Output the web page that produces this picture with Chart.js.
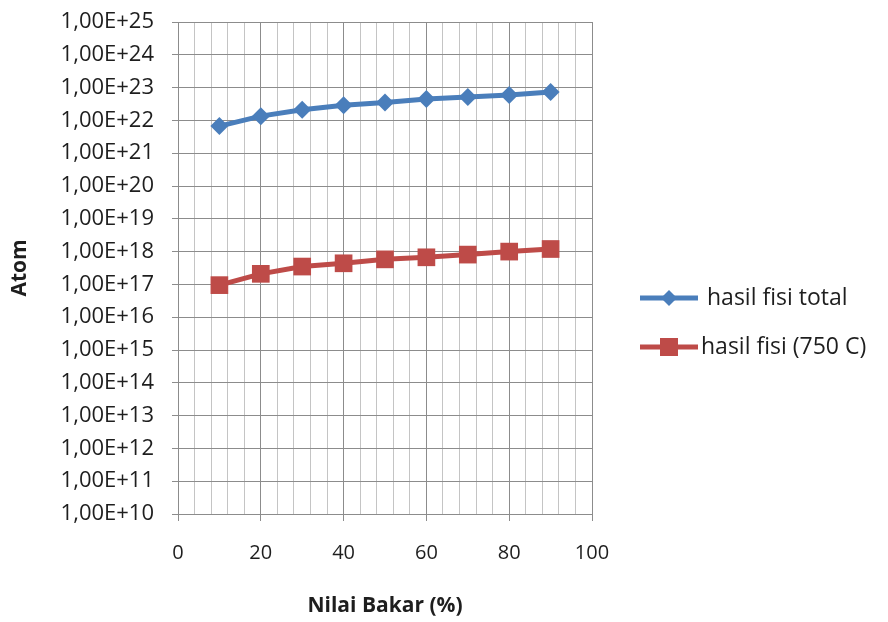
<!DOCTYPE html>
<html>
<head>
<meta charset="utf-8">
<script src="https://cdn.jsdelivr.net/npm/chart.js@4/dist/chart.umd.min.js"></script>
<style>
  html, body { margin: 0; padding: 0; background: #fff; }
  #wrap { width: 888px; height: 622px; }
</style>
</head>
<body>
<div id="wrap"><canvas id="fisi-chart" width="888" height="622"></canvas></div>
<script>
// data
var burnup = [10, 20, 30, 40, 50, 60, 70, 80, 90];
var fisiTotal = [6.7e21, 1.35e22, 2.1e22, 2.9e22, 3.5e22, 4.5e22, 5.2e22, 5.9e22, 7.4e22];
var fisi750 = [9.5e16, 2.1e17, 3.5e17, 4.4e17, 5.8e17, 6.7e17, 8.1e17, 1.0e18, 1.2e18];
var yExponents = [10, 11, 12, 13, 14, 15, 16, 17, 18, 19, 20, 21, 22, 23, 24, 25];
var seriesNames = ["hasil fisi total", "hasil fisi (750 C)"];

var fontFam = "'Open Sans', 'DejaVu Sans', sans-serif";
var textColor = "#1e1e1e";

function points(ys) {
    return burnup.map(function (x, i) { return { x: x, y: ys[i] }; });
}

// legend drawn by hand so it shows line + marker like the original
var sideLegend = {
    id: "sideLegend",
    afterDraw: function (chart) {
        var c = chart.ctx;
        var rows = [298, 347];
        chart.data.datasets.forEach(function (ds, i) {
            var y = rows[i];
            c.save();
            c.strokeStyle = ds.borderColor;
            c.lineWidth = 5;
            c.beginPath();
            c.moveTo(640, y);
            c.lineTo(698, y);
            c.stroke();
            c.fillStyle = ds.backgroundColor;
            c.beginPath();
            if (ds.pointStyle === "rectRot") {
                c.moveTo(669, y - 8); c.lineTo(677, y); c.lineTo(669, y + 8); c.lineTo(661, y);
            } else {
                c.rect(660, y - 9, 18, 18);
            }
            c.closePath();
            c.fill();
            c.fillStyle = textColor;
            c.font = "23px " + fontFam;
            c.textBaseline = "middle";
            c.fillText(ds.label, i === 0 ? 707 : 701, y);
            c.restore();
        });
    }
};

var ctx = document.getElementById("fisi-chart");

var fisiChart = new Chart(ctx, {
    type: "line",
    data: {
        datasets: [
            {
                label: seriesNames[0],
                data: points(fisiTotal),
                borderColor: "#4a7ebb",
                backgroundColor: "#4a7ebb",
                borderWidth: 5,
                pointStyle: "rectRot",
                pointRadius: 9,
                pointHoverRadius: 9,
                pointBorderWidth: 0
            },
            {
                label: seriesNames[1],
                data: points(fisi750),
                borderColor: "#be4b48",
                backgroundColor: "#be4b48",
                borderWidth: 5,
                pointStyle: "rect",
                pointRadius: 12.5,
                pointHoverRadius: 12.5,
                pointBorderWidth: 0
            }
        ]
    },
    options: {
        responsive: false,
        animation: false,
        layout: { padding: { left: 0, top: 22, right: 296, bottom: 0 } },
        plugins: {
            legend: { display: false },
            tooltip: { enabled: false }
        },
        scales: {
            x: {
                type: "linear",
                min: 0,
                max: 100,
                afterFit: function (s) { s.height = 108; },
                ticks: {
                    stepSize: 4,
                    autoSkip: false,
                    maxRotation: 0,
                    padding: 20,
                    color: textColor,
                    font: { family: fontFam, size: 20 },
                    callback: function (v) { return v % 20 === 0 ? v : ""; }
                },
                grid: {
                    color: function (c) { return c.tick && c.tick.value % 20 === 0 ? "#8c8c8c" : "#c4c4c4"; },
                    tickColor: function (c) { return c.tick && c.tick.value % 20 === 0 ? "#8c8c8c" : "rgba(0,0,0,0)"; },
                    tickLength: 7
                },
                border: { color: "#8c8c8c" },
                title: {
                    display: true,
                    text: "Nilai Bakar (%)",
                    color: textColor,
                    font: { family: fontFam, size: 21, weight: "bold" },
                    padding: { top: 0, bottom: 3 }
                }
            },
            y: {
                type: "logarithmic",
                min: 1e10,
                max: 1e25,
                afterFit: function (s) {
                    s.width = 178;
                    s.paddingTop = 12;
                    s.paddingBottom = 12;
                },
                afterBuildTicks: function (s) {
                    s.ticks = yExponents.map(function (e) { return { value: Math.pow(10, e), major: true }; });
                },
                ticks: {
                    padding: 18,
                    color: textColor,
                    font: { family: fontFam, size: 22 },
                    callback: function (v) { return "1,00E+" + Math.round(Math.log10(v)); }
                },
                grid: {
                    color: "#8c8c8c",
                    tickColor: "#8c8c8c",
                    tickLength: 6
                },
                border: { color: "#8c8c8c" },
                title: {
                    display: true,
                    text: "Atom",
                    color: textColor,
                    font: { family: fontFam, size: 21, weight: "bold" },
                    padding: { top: 7, bottom: 0 }
                }
            }
        }
    },
    plugins: [sideLegend]
});
</script>
</body>
</html>
